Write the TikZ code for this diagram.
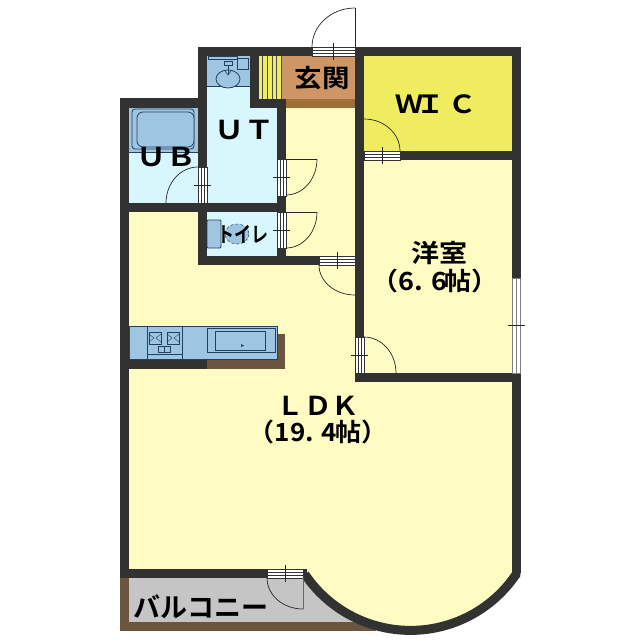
\documentclass[tikz,border=0pt]{standalone}
\usepackage{fontspec}
\usepackage{graphicx}
\usetikzlibrary{calc}
\newfontfamily\jpf{Noto Sans CJK JP}[BoldFont={Noto Sans CJK JP Bold}]
\definecolor{wallc}{RGB}{50,50,50}
\definecolor{roomc}{RGB}{255,252,195}
\definecolor{wicc}{RGB}{240,236,96}
\definecolor{entc}{RGB}{205,150,100}
\definecolor{stripc}{RGB}{160,110,55}
\definecolor{wetc}{RGB}{215,247,252}
\definecolor{fixc}{RGB}{158,197,225}
\definecolor{fixl}{RGB}{35,65,95}
\definecolor{brownc}{RGB}{107,85,62}
\definecolor{balc}{RGB}{197,197,197}
\tikzset{
  wall/.style={fill=wallc},
  fixture/.style={draw=fixl,fill=fixc,line width=.8pt},
  swing/.style={draw=black!85,line width=.7pt},
  lbl/.style={font=\jpf\bfseries,text=black,inner sep=0pt},
}
% horizontal door leaf in wall: x1 y1 x2 y2
\newcommand{\hleaf}[4]{%
  \fill[white] (#1,#2) rectangle (#3,#4);
  \draw[black!80,line width=.7pt] (#1,#2+3) -- (#3,#2+3) (#1,#2+6) -- (#3,#2+6);
  \draw[black!80,line width=.7pt] (#1,#2) rectangle (#3,#4);
  \draw[black!85,line width=.7pt] ({(#1+#3)/2},#2-4) -- ({(#1+#3)/2},#4+4);
}
\newcommand{\vleaf}[4]{%
  \fill[white] (#1,#2) rectangle (#3,#4);
  \draw[black!80,line width=.7pt] (#1+3,#2) -- (#1+3,#4) (#1+6,#2) -- (#1+6,#4);
  \draw[black!80,line width=.7pt] (#1,#2) rectangle (#3,#4);
  \draw[black!85,line width=.7pt] (#1-4,{(#2+#4)/2}) -- (#3+4,{(#2+#4)/2});
}
% quarter arc: A, B, centre
\newcommand{\qarc}[3]{%
  \draw[swing] (#1) .. controls ($(#1)+0.5523*(#2)-0.5523*(#3)$) and ($(#2)+0.5523*(#1)-0.5523*(#3)$) .. (#2);
}
\begin{document}
\begin{tikzpicture}[x=1pt,y=-1pt]
\useasboundingbox (0,0) rectangle (640,640);
\fill[white] (0,0) rectangle (640,640);
% balcony
\fill[brownc] (120,578) rectangle (376,631);
\fill[balc] (129,578) rectangle (376,622);
% floors
\fill[roomc] (129,108) rectangle (512,575);
\fill[roomc] plot[domain=34:146,samples=80] ({410.5+127.4*cos(\x)},{503+127.4*sin(\x)}) -- cycle;
\fill[wetc] (129,108) rectangle (198,203);
\fill[fixc] (129,108) rectangle (198,152);
\draw[fixl,line width=.5pt] (129,152) -- (198,152);
\fill[wetc] (207,56) rectangle (250,108);
\fill[wetc] (207,108) rectangle (277,203);
\fill[wetc] (207,212) rectangle (277,256);
\fill[wicc] (364,56) rectangle (512,151);
\fill[entc] (281,56) rectangle (355,99);
\fill[wicc] (259,56) rectangle (281,99);
\fill[stripc] (286,99) rectangle (355,108);
\foreach \xx in {262,267,272,276,281}{\draw[black!70,line width=.7pt] (\xx,56) -- (\xx,99);}
% bath
\draw[fixture,fill=fixc,rounded corners=3pt] (132,109) rectangle (194,149);
\draw[fixture,rounded corners=6pt] (137,112) rectangle (194,147);
% washbasin
\fill[fixc] (207,56) rectangle (250,86);
\draw[fixl,line width=.5pt] (207,86) -- (250,86);
\draw[fixl,line width=.6pt] (208,56) rectangle (237,59);
\draw[fixture] (237,58) rectangle (248,69);
\draw[fixture] (228,79) ellipse [x radius=12,y radius=9];
\draw[fixl,line width=.6pt] (228,65) -- (228,74);
\draw[fixture] (224,61) rectangle (232,65);
\draw[fixl,line width=.6pt] (225,71) -- (228,75) -- (231,71);
% toilet
\draw[fixture,rounded corners=1pt] (207,220) rectangle (221,248);
\draw[fixture,densely dashed,line width=.5pt] (237,234) ellipse [x radius=12,y radius=10];
% kitchen
\fill[fixc] (129,326) rectangle (277,359);
\draw[fixl,line width=.8pt] (129,326) rectangle (277,359);
\draw[fixl,line width=.8pt] (147,326) rectangle (182,359);
\draw[fixl,line width=.8pt] (147,354) -- (182,354);
\foreach \xa in {149,167}{
  \draw[fixl,line width=.8pt] (\xa,332) rectangle (\xa+12,344);
  \draw[fixl,line width=.4pt] (\xa,334) -- (\xa+5,338) -- (\xa,342) (\xa+12,334) -- (\xa+7,338) -- (\xa+12,342);
}
\draw[fixl,line width=.8pt] (158,346) rectangle (170,352);
\draw[fixl,line width=.5pt] (164,346) -- (164,352);
\draw[fixl,line width=.8pt] (207,328) rectangle (275,352);
\draw[fixl,line width=.9pt] (215,331) rectangle (265,350);
\fill[fixl] (241,344) -- (244,345.5) -- (241,347) -- cycle;
% kitchen brown parts
\fill[brownc] (207,359) rectangle (285,369);
\fill[brownc] (277,334) rectangle (285,369);
\fill[wall] (120,359) rectangle (207,369);
\draw[fixl,line width=.8pt] (129,359) -- (277,359) -- (277,326);
% walls
\fill[wall] (120,98) rectangle (207,108);
\fill[wall] (120,98) rectangle (129,578);
\fill[wall] (198,47) rectangle (207,265);
\fill[wall] (198,47) rectangle (521,56);
\fill[wall] (512,47) rectangle (521,573);
\fill[wall] (512,570) -- (521,570) -- (520,577.5) -- (512,572.5) -- cycle;
\fill[wall] (250,47) rectangle (259,108);
\fill[wall] (250,99) rectangle (286,108);
\fill[wall] (277,99) rectangle (286,265);
\fill[wall] (120,203) rectangle (286,212);
\fill[wall] (198,256) rectangle (319,265);
\fill[wall] (355,47) rectangle (364,382);
\fill[wall] (400,151) rectangle (512,160);
\fill[wall] (355,373) rectangle (521,382);
\fill[wall] (120,569) rectangle (307,578);
\draw[wallc,line width=9pt] plot[domain=34:146,samples=80] ({410.5+127.4*cos(\x)},{503+127.4*sin(\x)});
% doors
\hleaf{312}{47}{355}{56}
\draw[swing] (355,47) -- (355,8);
\coordinate (a1) at (312,47); \coordinate (b1) at (355,8); \coordinate (c1) at (355,47);
\qarc{a1}{b1}{c1}
\vleaf{198}{167}{207}{203}
\coordinate (a2) at (198,167); \coordinate (b2) at (166,203); \coordinate (c2) at (198,203);
\qarc{a2}{b2}{c2}
\vleaf{277}{159}{286}{196}
\draw[swing] (286,159) -- (317,159);
\coordinate (a3) at (317,159); \coordinate (b3) at (286,195); \coordinate (c3) at (286,159);
\qarc{a3}{b3}{c3}
\vleaf{277}{212}{286}{248}
\draw[swing] (286,212) -- (317,212);
\coordinate (a4) at (317,212); \coordinate (b4) at (286,248); \coordinate (c4) at (286,212);
\qarc{a4}{b4}{c4}
\hleaf{319}{256}{355}{265}
\coordinate (a5) at (319,265); \coordinate (b5) at (355,295); \coordinate (c5) at (355,265);
\qarc{a5}{b5}{c5}
\vleaf{355}{337}{364}{373}
\coordinate (a6) at (364,337); \coordinate (b6) at (396,373); \coordinate (c6) at (364,373);
\qarc{a6}{b6}{c6}
\hleaf{364}{151}{400}{160}
\coordinate (a7) at (364,119); \coordinate (b7) at (400,151); \coordinate (c7) at (364,151);
\qarc{a7}{b7}{c7}
\hleaf{267}{569}{303}{578}
\draw[black!60,line width=.8pt] (303,578) -- (303,609);
\coordinate (a8) at (267,578); \coordinate (b8) at (303,609); \coordinate (c8) at (303,578);
\qarc{a8}{b8}{c8}
% window
\fill[white] (512,278) rectangle (520,373);
\draw[black!50,line width=1pt] (512,278) rectangle (520,373) (516,278) -- (516,373);
\draw[black!85,line width=.7pt] (508,325) -- (525,325);
% labels
\node[lbl,font=\jpf\bfseries\fontsize{25}{25}\selectfont] (lgen) at (322,78) {\scalebox{1.1}[1]{玄関}};
\node[lbl,font=\jpf\bfseries\fontsize{26}{26}\selectfont] (lut) at (244,130) {\scalebox{1.15}[1]{ＵＴ}};
\node[lbl,font=\jpf\bfseries\fontsize{26}{26}\selectfont] (lub) at (166,157) {\scalebox{1.15}[1]{ＵＢ}};
\node[lbl,font=\jpf\bfseries\fontsize{25}{25}\selectfont] (lwic) at (436,104) {\scalebox{1.12}[1]{Ｗ\hspace{-6pt}Ｉ\hspace{3pt}Ｃ}};
\node[lbl,font=\jpf\bfseries\fontsize{17}{17}\selectfont] (ltoi) at (243,234) {\scalebox{1}[1.25]{トイレ}};
\node[lbl,font=\jpf\bfseries\fontsize{25}{25}\selectfont] (lyo) at (439,253) {\scalebox{1.12}[1]{洋室}};
\node[lbl,font=\jpf\bfseries\fontsize{25}{25}\selectfont] (lyo2) at (435,281) {\scalebox{1.08}[1]{（6. 6\hspace{-2pt}帖）}};
\node[lbl,font=\jpf\bfseries\fontsize{26}{26}\selectfont] (lldk) at (318,406) {\scalebox{1.06}[1]{ＬＤＫ}};
\node[lbl,font=\jpf\bfseries\fontsize{25}{25}\selectfont] (lldk2) at (318,432) {\scalebox{1.04}[1]{（19. 4\hspace{-2pt}帖）}};
\node[lbl,font=\jpf\bfseries\fontsize{27}{27}\selectfont] (lbal) at (201,607) {バルコニー};
\end{tikzpicture}
\end{document}
